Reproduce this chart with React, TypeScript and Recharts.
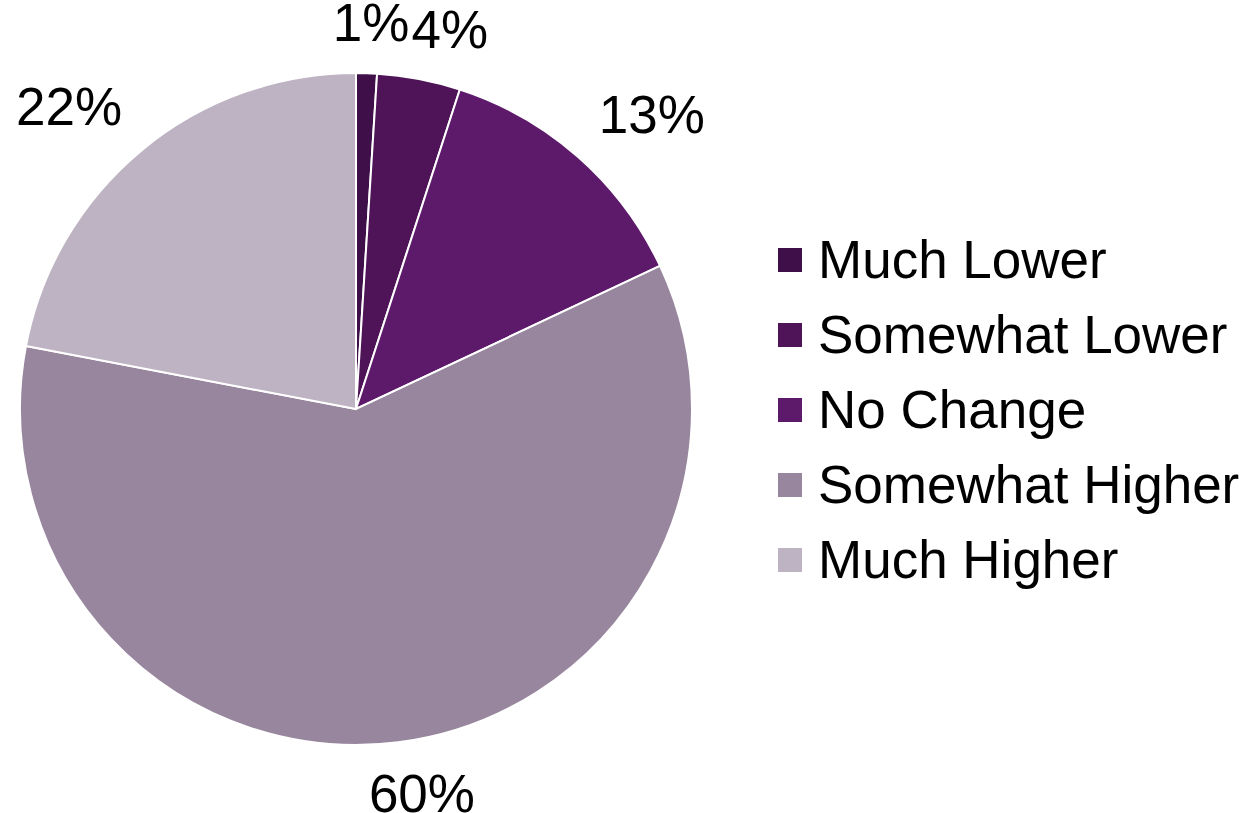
import React from "react";
import { PieChart, Pie, Cell, Legend } from "recharts";

const categories = ["Much Lower", "Somewhat Lower", "No Change", "Somewhat Higher", "Much Higher"];
const values = [1, 4, 13, 60, 22];
const colors = ["#3f0f4a", "#4f1458", "#5d1a6b", "#98869e", "#bdb3c3"];

const data = categories.map((name, i) => ({ name, value: values[i] }));

const FONT = "'Liberation Sans', Arial, Helvetica, sans-serif";
const FS = 53;

const textW = (s: string) =>
  s.split("").reduce((a, c) => a + (c === "%" ? 0.889 : 0.556), 0) * FS;

// label boxes sit just outside the slice edge; overlapping neighbours are pushed apart
const labelPositions = (cx: number, cy: number, r: number) => {
  const total = values.reduce((a, b) => a + b, 0);
  let cum = 0;
  const out: { x: number; y: number; w: number }[] = [];
  const halfH = 20;
  const gap = 31;
  values.forEach((v) => {
    const mid = ((cum + v / 2) / total) * 2 * Math.PI; // clockwise from top
    cum += v;
    const ux = Math.sin(mid);
    const uy = -Math.cos(mid);
    const w = textW(`${v}%`);
    const fx = Math.min(1, Math.abs(ux) * 3) * Math.sign(ux);
    const fy = Math.min(1, Math.abs(uy) * 3) * Math.sign(uy);
    out.push({
      x: cx + (r + gap) * ux + (w / 2) * fx,
      y: cy + (r + gap) * uy + halfH * fy,
      w,
    });
  });
  for (let i = 1; i < out.length; i++) {
    const a = out[i - 1];
    const b = out[i];
    if (Math.abs(a.y - b.y) < 40) {
      const minGap = a.w / 2 + b.w / 2 + 2;
      if (b.x - a.x < minGap) b.x = a.x + minGap;
    }
  }
  return out;
};

const renderLabel = (props: any) => {
  const { cx, cy, outerRadius, value, index } = props;
  const pos = labelPositions(cx, cy, outerRadius)[index];
  return (
    <text
      key={`lbl-${index}`}
      x={pos.x}
      y={pos.y + 19}
      textAnchor="middle"
      fill="#000"
      style={{ fontFamily: FONT, fontSize: FS }}
    >
      {`${value}%`}
    </text>
  );
};

const LegendContent = (props: any) => {
  const payload = [...(props.payload || [])].sort(
    (a: any, b: any) => categories.indexOf(a.value) - categories.indexOf(b.value)
  );
  return (
    <div style={{ fontFamily: FONT }}>
      {payload.map((p: any, i: number) => (
        <div
          key={i}
          style={{ display: "flex", alignItems: "center", height: 75, whiteSpace: "nowrap" }}
        >
          <div style={{ width: 24, height: 24, background: p.color, marginRight: 16, flexShrink: 0 }} />
          <span style={{ fontSize: FS, color: "#000", lineHeight: "75px" }}>{p.value}</span>
        </div>
      ))}
    </div>
  );
};

export default function App() {
  return (
    <div style={{ position: "absolute", left: 0, top: 0, width: 1260, height: 813, background: "#fff" }}>
      <PieChart width={1260} height={813}>
        <Pie
          data={data}
          dataKey="value"
          nameKey="name"
          cx={351}
          cy={404}
          outerRadius={336}
          startAngle={90}
          endAngle={-270}
          stroke="#ffffff"
          strokeWidth={2}
          label={renderLabel}
          labelLine={false}
          isAnimationActive={false}
        >
          {data.map((d, i) => (
            <Cell key={d.name} fill={colors[i]} />
          ))}
        </Pie>
        <Legend
          layout="vertical"
          align="right"
          verticalAlign="middle"
          content={<LegendContent />}
          wrapperStyle={{ left: 778, top: 222, width: 480 }}
        />
      </PieChart>
    </div>
  );
}
